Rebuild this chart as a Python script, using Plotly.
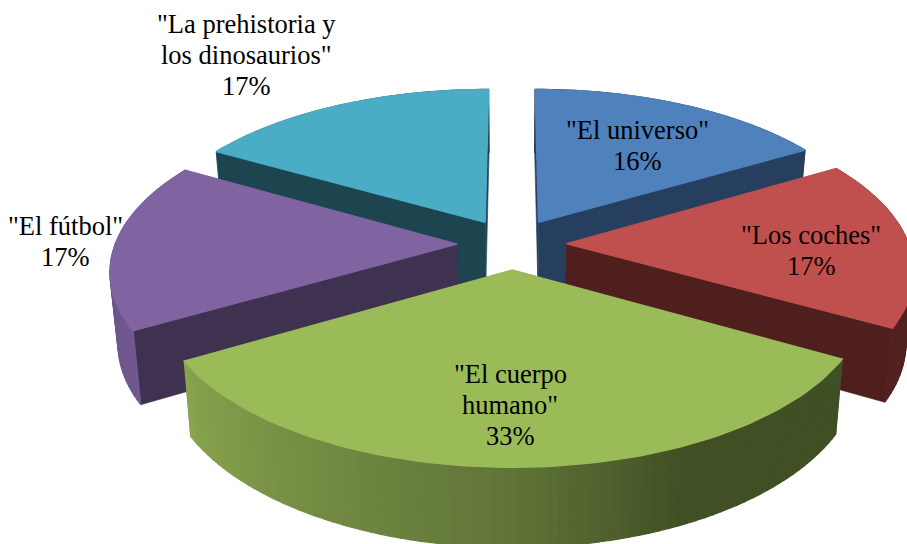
import math
import plotly.graph_objects as go

# --- data ---
categories = ['"El universo"', '"Los coches"', '"El cuerpo<br>humano"', '"El fútbol"', '"La prehistoria y<br>los dinosaurios"']
shares = [16.5, 16.7, 33.4, 16.7, 16.7]

# --- style ---
top_colors = ["#4F81BD", "#C0504D", "#9BBB59", "#8064A2", "#4BACC6"]
cut_colors = ["#273F5E", "#4F1F1E", "#3F4A22", "#3F3150", "#1C4550"]
label_pos = [(637, 130), (811, 235), (510, 374), (65, 226), (246, 24)]
LINE_STEP = 31.0

W, H = 907, 544
CX, CY = 512.0, 244.0
A, B = 342.0, 159.0      # projected radii
P = 0.15                 # perspective strength
EXPLODE = 0.16
DEPTH = 70.0
BOTTOM_K = 0.98


def project(X, Y, bottom=False):
    s = 1.0 / (1.0 - P * Y)
    x, y = A * X * s, B * Y * s
    if bottom:
        return CX + x * BOTTOM_K, CY + y * BOTTOM_K + DEPTH * s
    return CX + x, CY + y


def hexrgb(c):
    return tuple(int(c[i:i + 2], 16) for i in (1, 3, 5))


def shade(c, f):
    r, g, b = hexrgb(c)
    return f"rgb({r * f:.0f},{g * f:.0f},{b * f:.0f})"


def rim_factor(deg):
    knots = [(0, .42), (155, .42), (180, .62), (240, .88), (262, .84), (300, .80), (360, .45)]
    for (a0, f0), (a1, f1) in zip(knots, knots[1:]):
        if a0 <= deg <= a1:
            return f0 + (f1 - f0) * (deg - a0) / (a1 - a0)
    return .42


def poly(pts, color, lw=0.6):
    xs = [p[0] for p in pts] + [pts[0][0]]
    ys = [p[1] for p in pts] + [pts[0][1]]
    return go.Scatter(x=xs, y=ys, mode="lines", fill="toself", fillcolor=color,
                      line=dict(color=color, width=lw), hoverinfo="skip", showlegend=False)


total = sum(shares)
start = 0.0
slices = []
for i, v in enumerate(shares):
    end = start + v / total * 360.0
    slices.append((i, start, end))
    start = end


def apex_of(a0, a1):
    mid = math.radians((a0 + a1) / 2)
    return EXPLODE * math.sin(mid), -EXPLODE * math.cos(mid)


fig = go.Figure()
for i, a0, a1 in sorted(slices, key=lambda t: apex_of(t[1], t[2])[1]):
    ox, oy = apex_of(a0, a1)
    n = max(8, int((a1 - a0) / 1.5))
    angs = [a0 + (a1 - a0) * k / n for k in range(n + 1)]
    rim = [(ox + math.sin(math.radians(a)), oy - math.cos(math.radians(a))) for a in angs]

    faces = []
    for end_pt in (rim[0], rim[-1]):
        pts = [project(ox, oy), project(*end_pt), project(*end_pt, bottom=True), project(ox, oy, bottom=True)]
        faces.append(((oy + end_pt[1]) / 2, pts, cut_colors[i], 0.6))
    for k in range(n):
        p, q = rim[k], rim[k + 1]
        pts = [project(*p), project(*q), project(*q, bottom=True), project(*p, bottom=True)]
        col = shade(top_colors[i], rim_factor((angs[k] + angs[k + 1]) / 2))
        faces.append(((p[1] + q[1]) / 2, pts, col, 1.2))
    for _, pts, col, lw in sorted(faces, key=lambda f: f[0]):
        fig.add_trace(poly(pts, col, lw))
    fig.add_trace(poly([project(ox, oy)] + [project(*r) for r in rim], top_colors[i], 1.4))

for name, v, (lx, ly) in zip(categories, shares, label_pos):
    for j, line in enumerate(name.split("<br>") + [f"{v:.0f}%"]):
        fig.add_annotation(x=lx, y=ly + j * LINE_STEP, xref="x", yref="y", text=line, showarrow=False,
                           xanchor="center", yanchor="middle", align="center",
                           font=dict(family="Liberation Serif", size=26.5, color="black"))

fig.update_layout(width=W, height=H, margin=dict(l=0, r=0, t=0, b=0), paper_bgcolor="white",
                  plot_bgcolor="white", showlegend=False, hovermode=False,
                  xaxis=dict(range=[0, W], visible=False, fixedrange=True),
                  yaxis=dict(range=[H, 0], visible=False, fixedrange=True))
fig.write_html("out.html", config=dict(displayModeBar=False),
               post_script="document.body.style.margin='0';document.body.style.overflow='hidden';")
